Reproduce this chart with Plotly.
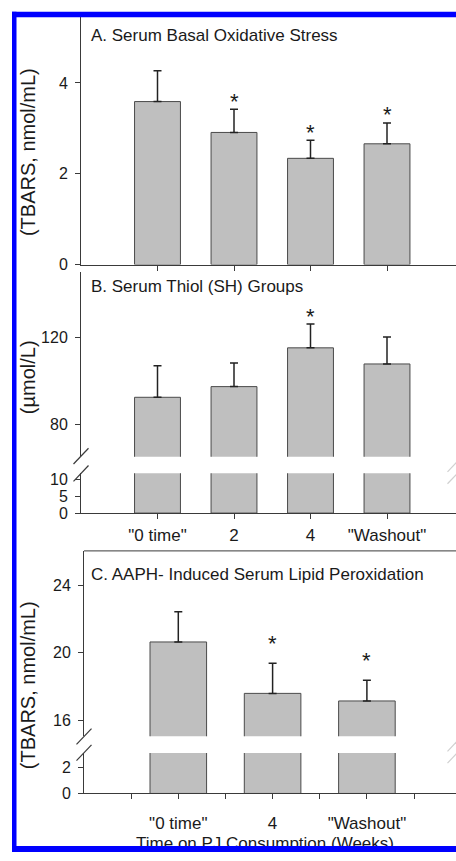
import plotly.graph_objects as go

# ---------------- data ----------------
categories_ab = ['"0 time"', '2', '4', '"Washout"']
categories_c = ['"0 time"', '4', '"Washout"']

basal_tbars = [3.59, 2.91, 2.34, 2.66]
basal_tbars_err = [0.68, 0.51, 0.40, 0.46]
basal_sig = [False, True, True, True]

thiol = [92.5, 97.4, 115.2, 107.8]
thiol_err = [14.5, 10.8, 10.9, 12.4]
thiol_sig = [False, False, True, False]

aaph_tbars = [20.63, 17.58, 17.13]
aaph_tbars_err = [1.79, 1.78, 1.23]
aaph_sig = [False, True, True]

ticks_a = [0, 2, 4]
ticks_b_upper = [80, 120]
ticks_b_lower = [0, 5, 10]
ticks_c_upper = [16, 20, 24]
ticks_c_lower = [0, 2]

x_title = "Time on PJ Consumption (Weeks)"

# ---------------- layout helpers ----------------
W, H = 456, 861
FONT = "Liberation Sans, Arial, sans-serif"
TXT = "#1a1a1a"
LINE = "#3a3a3a"
BAR_FILL = "#bfbfbf"
BAR_LINE = "#4a4a4a"


def fx(px):
    return px / W


def fy(py):
    return 1 - py / H


fig = go.Figure()

xa = list(range(len(categories_ab)))
xc = list(range(len(categories_c)))


def add_bars(xs, vals, errs, xaxis, yaxis_upper, yaxis_lower):
    fig.add_trace(go.Bar(
        x=xs, y=vals, width=0.6, xaxis=xaxis, yaxis=yaxis_upper,
        marker=dict(color=BAR_FILL, line=dict(color=BAR_LINE, width=1)),
        error_y=dict(type="data", array=errs, arrayminus=[0] * len(errs),
                     symmetric=False, color="#222222", thickness=1.5, width=4),
        showlegend=False, hoverinfo="skip"))
    if yaxis_lower is not None:
        fig.add_trace(go.Bar(
            x=xs, y=vals, width=0.6, xaxis=xaxis, yaxis=yaxis_lower,
            marker=dict(color=BAR_FILL, line=dict(color=BAR_LINE, width=1)),
            showlegend=False, hoverinfo="skip"))


add_bars(xa, basal_tbars, basal_tbars_err, "x", "y", None)
add_bars(xa, thiol, thiol_err, "x2", "y2", "y3")
add_bars(xc, aaph_tbars, aaph_tbars_err, "x3", "y4", "y5")

# x-axis title of panel C, drawn on a full-page pixel overlay so the
# blue frame can sit on top of it (as in the original crop)
fig.add_trace(go.Scatter(
    x=[265], y=[854], mode="text", text=[x_title], textposition="middle center",
    textfont=dict(family=FONT, size=17, color=TXT), xaxis="x4", yaxis="y6",
    showlegend=False, hoverinfo="skip", cliponaxis=False))

axis_common = dict(showgrid=False, zeroline=False, showline=True,
                   linecolor=LINE, linewidth=1, ticks="outside", ticklen=5,
                   tickwidth=1, tickcolor=LINE,
                   tickfont=dict(family=FONT, size=16, color=TXT))
xtick_font = dict(family=FONT, size=17, color=TXT)

fig.update_layout(
    # Panel A
    xaxis=dict(**axis_common, domain=[fx(81), 1], anchor="y",
               range=[-1, -1 + (456 - 81) / 76.5], tickmode="array",
               tickvals=xa, showticklabels=False),
    yaxis=dict(**axis_common, domain=[fy(266), fy(15)], anchor="x",
               range=[0, (266 - 15) / 46], tickmode="array", tickvals=ticks_a,
               ticklabelstandoff=4),
    # Panel B
    xaxis2=dict(**axis_common, domain=[fx(81), 1], anchor="y3",
                range=[-1, -1 + (456 - 81) / 76.5], tickmode="array",
                tickvals=xa, ticktext=categories_ab, ticklabelstandoff=2),
    yaxis2=dict(**axis_common, domain=[fy(460.7), fy(273)], anchor="x2",
                range=[80 - (460.7 - 428) / 2.207, 80 + (428 - 273) / 2.207],
                tickmode="array", tickvals=ticks_b_upper, ticklabelstandoff=4),
    yaxis3=dict(**axis_common, domain=[fy(517.7), fy(477.3)], anchor="x2",
                range=[0, (517.7 - 477.3) / 3.44], tickmode="array",
                tickvals=ticks_b_lower, ticklabelstandoff=4),
    # Panel C
    xaxis3=dict(**axis_common, domain=[fx(84), 1], anchor="y5",
                range=[-1, -1 + (456 - 84) / 94.3], tickmode="array",
                tickvals=xc, ticktext=categories_c, ticklabelstandoff=9,
                minor=dict(tickmode="array", tickvals=[-0.5, 0.5, 1.5, 2.5],
                           ticks="outside", ticklen=5, tickcolor=LINE)),
    yaxis4=dict(**axis_common, domain=[fy(743.7), fy(556)], anchor="x3",
                range=[16 - (743.7 - 727.3) / 17.08, 24 + (590.7 - 556) / 17.08],
                tickmode="array", tickvals=ticks_c_upper, ticklabelstandoff=4),
    yaxis5=dict(**axis_common, domain=[fy(801.7), fy(760.7)], anchor="x3",
                range=[0, (801.7 - 760.7) / 13.33], tickmode="array",
                tickvals=ticks_c_lower, ticklabelstandoff=4),
    # pixel overlay for the x title
    xaxis4=dict(domain=[0, 1], range=[0, W], visible=False, anchor="y6",
                fixedrange=True),
    yaxis6=dict(domain=[0, 1], range=[H, 0], visible=False, anchor="x4",
                fixedrange=True),
)
fig.update_xaxes(tickfont=xtick_font, selector=dict(anchor="y3"))
fig.update_xaxes(tickfont=xtick_font, selector=dict(anchor="y5"))

annotations = []

# significance stars
for xs, vals, errs, sig, xr, yr, shift in [
        (xa, basal_tbars, basal_tbars_err, basal_sig, "x", "y", 12),
        (xa, thiol, thiol_err, thiol_sig, "x2", "y2", 12),
        (xc, aaph_tbars, aaph_tbars_err, aaph_sig, "x3", "y4", 24)]:
    for xi, v, e, s in zip(xs, vals, errs, sig):
        if s:
            annotations.append(dict(
                x=xi, y=v + e, xref=xr, yref=yr, text="*", showarrow=False,
                yanchor="middle", yshift=shift - 4,
                font=dict(family=FONT, size=22, color=TXT)))

# panel titles
for text, ypx in [("A. Serum Basal Oxidative Stress", 34),
                  ("B. Serum Thiol (SH) Groups", 288),
                  ("C. AAPH- Induced Serum Lipid Peroxidation", 580)]:
    annotations.append(dict(x=fx(89), y=fy(ypx), xref="paper", yref="paper",
                            text=text, showarrow=False, xanchor="left",
                            yanchor="middle",
                            font=dict(family=FONT, size=17, color=TXT)))

# y-axis titles
for text, ypx in [("(TBARS, nmol/mL)", 152), ("(µmol/L)", 380),
                  ("(TBARS, nmol/mL)", 692)]:
    annotations.append(dict(x=fx(28), y=fy(ypx), xref="paper", yref="paper",
                            text=text, showarrow=False, textangle=-90,
                            xanchor="center", yanchor="middle",
                            font=dict(family=FONT, size=20, color=TXT)))

shapes = []


def slash(cx, cy, color=LINE):
    return dict(type="line", xref="paper", yref="paper",
                x0=fx(cx - 7.5), y0=fy(cy + 8), x1=fx(cx + 7.5), y1=fy(cy - 8),
                line=dict(color=color, width=1.2))


# axis break marks
shapes += [slash(81, 460), slash(81, 477.5), slash(84, 744), slash(84, 760.5)]
shapes += [slash(455, 468, "#d0d0d0"), slash(455, 480, "#d0d0d0"),
           slash(455, 751, "#d0d0d0"), slash(455, 763, "#d0d0d0")]

# frame line on top of panel C
shapes.append(dict(type="line", xref="paper", yref="paper", x0=fx(84),
                   y0=fy(556), x1=1, y1=fy(556),
                   line=dict(color=LINE, width=1)))

# blue border
BLUE = "#0000ff"
shapes += [
    dict(type="rect", xref="paper", yref="paper", x0=fx(12), x1=fx(16.5),
         y0=0, y1=fy(10), fillcolor=BLUE, line=dict(width=0), layer="above"),
    dict(type="rect", xref="paper", yref="paper", x0=fx(12), x1=1,
         y0=fy(15.5), y1=fy(10), fillcolor=BLUE, line=dict(width=0),
         layer="above"),
    dict(type="rect", xref="paper", yref="paper", x0=fx(12), x1=1,
         y0=0, y1=fy(855), fillcolor=BLUE, line=dict(width=0), layer="above"),
]

fig.update_layout(
    width=W, height=H, margin=dict(l=0, r=0, t=0, b=0),
    paper_bgcolor="white", plot_bgcolor="rgba(0,0,0,0)", showlegend=False,
    annotations=annotations, shapes=shapes, bargap=0.4,
)

fig.write_html("out.html")
